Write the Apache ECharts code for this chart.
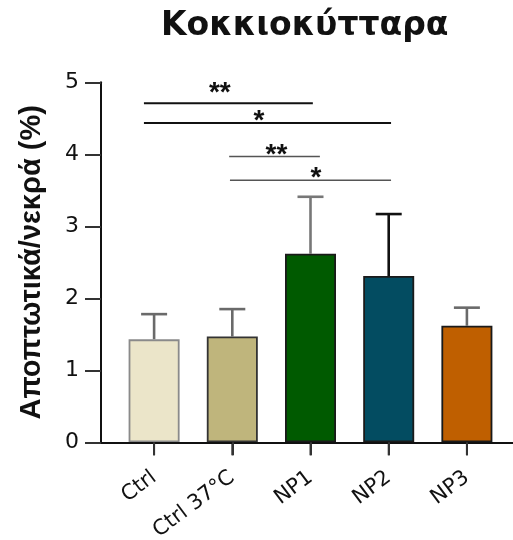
<!DOCTYPE html>
<html><head><meta charset="utf-8">
<script src="https://cdn.jsdelivr.net/npm/echarts@6/dist/echarts.min.js"></script>
<style>html,body{margin:0;padding:0;background:#fff}#c{width:513px;height:540px}</style>
</head><body><div id="c"></div>
<script>
const titleText = 'Κοκκιοκύτταρα';
const yName = 'Αποπτωτικά/νεκρά (%)';
const categories = ['Ctrl', 'Ctrl 37°C', 'NP1', 'NP2', 'NP3'];
const means = [1.43, 1.47, 2.62, 2.31, 1.62];
const errTops = [1.78, 1.85, 3.41, 3.17, 1.87];
const barColors = ['#ebe5c9', '#bfb57c', '#005a00', '#034c61', '#bf5f00'];
const borderColors = ['#8a8a8a', '#333333', '#1a1a1a', '#1a1a1a', '#1a1a1a'];
const errColors = ['#6a6a6a', '#6a6a6a', '#777777', '#111111', '#6a6a6a'];
const yMin = 0, yMax = 5, yStep = 1;
// significance brackets (category units on x, value units on y)
const sigFrom = [-0.13, -0.13, 0.96, 0.97];
const sigTo = [2.03, 3.03, 2.12, 3.03];
const sigY = [4.71, 4.435, 3.97, 3.64];
const sigText = ['**', '*', '**', '*'];
const sigTextX = [0.84, 1.34, 1.565, 2.07];
const sigTextY = [4.85, 4.46, 3.98, 3.67];
const sigColors = ['#111111', '#111111', '#555555', '#555555'];
const sigWidths = [2, 2, 1.5, 1.5];

const chart = echarts.init(document.getElementById('c'));
const gridTop = 82.3, gridBottom = 97.7;
chart.setOption({
  animation: false,
  backgroundColor: '#ffffff',
  graphic: [{
    type: 'text', left: 307 - 146, top: 10,
    style: { text: titleText, fontFamily: 'DejaVu Sans', fontWeight: 'bold', fontSize: 33, fill: '#111' }
  }],
  grid: [
    { left: 101, right: 0, top: gridTop, bottom: gridBottom, containLabel: false, outerBoundsMode: 'none' },
    { left: 115, width: 391, top: gridTop, bottom: gridBottom, containLabel: false, outerBoundsMode: 'none' }
  ],
  xAxis: [
    { gridIndex: 0, type: 'value', min: 0, max: 1,
      axisLine: { show: true, lineStyle: { color: '#111', width: 2 } },
      axisTick: { show: false }, axisLabel: { show: false }, splitLine: { show: false } },
    { gridIndex: 1, type: 'category', data: categories, position: 'bottom', z: 10,
      axisLine: { show: true, onZero: false, lineStyle: { color: '#111', width: 2 } },
      axisTick: { show: true, inside: false, interval: 0, alignWithLabel: true, length: 13, lineStyle: { color: '#333', width: 2 } },
      axisLabel: { interval: 0, rotate: 37, margin: 33, fontFamily: 'DejaVu Sans', fontSize: 21, color: '#111' },
      splitLine: { show: false } },
    { gridIndex: 1, type: 'value', min: -0.5, max: 4.5, show: false }
  ],
  yAxis: [
    { gridIndex: 0, type: 'value', min: yMin, max: yMax, interval: yStep,
      axisLine: { show: true, lineStyle: { color: '#111', width: 2 } },
      axisTick: { show: true, length: 16, lineStyle: { color: '#333', width: 2 } },
      axisLabel: { margin: 22, fontFamily: 'DejaVu Sans', fontSize: 22, color: '#111' },
      splitLine: { show: false },
      name: yName, nameLocation: 'middle', nameGap: 55, nameRotate: 90,
      nameTextStyle: { fontFamily: 'Liberation Sans', fontWeight: 'bold', fontSize: 29, color: '#111' } },
    { gridIndex: 1, type: 'value', min: yMin, max: yMax, show: false }
  ],
  series: [
    { type: 'custom', xAxisIndex: 1, yAxisIndex: 1, z: 1, clip: false,
      data: means.map((v, i) => [i, v, errTops[i]]),
      encode: { x: 0, y: [1, 2] },
      renderItem: function (params, api) {
        const i = api.value(0);
        const b = api.coord([i, api.value(1)]);
        const t = api.coord([i, api.value(2)]);
        const z0 = api.coord([i, yMin]);
        const st = { stroke: errColors[params.dataIndex], lineWidth: 2.6 };
        return { type: 'group', children: [
          { type: 'line', shape: { x1: b[0], y1: b[1], x2: t[0], y2: t[1] }, style: st },
          { type: 'line', shape: { x1: t[0] - 13, y1: t[1], x2: t[0] + 13, y2: t[1] }, style: st },
          { type: 'line', shape: { x1: z0[0], y1: z0[1], x2: z0[0], y2: z0[1] + 13 },
            style: { stroke: '#333', lineWidth: 2 } }
        ] };
      } },
    { type: 'bar', xAxisIndex: 1, yAxisIndex: 1, barWidth: 51, z: 2,
      data: means.map((v, i) => ({ value: v, itemStyle: { color: barColors[i], borderColor: borderColors[i], borderWidth: 1.8 } })) },
    { type: 'custom', xAxisIndex: 2, yAxisIndex: 1, z: 4,
      data: sigFrom.map((f, i) => [f, sigTo[i], sigY[i], sigTextX[i], sigTextY[i]]),
      encode: { x: [0, 1, 3], y: [2, 4] },
      renderItem: function (params, api) {
        const k = params.dataIndex;
        const p1 = api.coord([api.value(0), api.value(2)]);
        const p2 = api.coord([api.value(1), api.value(2)]);
        const pt = api.coord([api.value(3), api.value(4)]);
        return { type: 'group', children: [
          { type: 'line', shape: { x1: p1[0], y1: p1[1], x2: p2[0], y2: p2[1] },
            style: { stroke: sigColors[k], lineWidth: sigWidths[k] } },
          { type: 'text', x: pt[0], y: pt[1],
            style: { text: sigText[k], align: 'center', verticalAlign: 'middle',
              fontFamily: 'Liberation Sans', fontWeight: 'bold', fontSize: 28, fill: '#111' } }
        ] };
      } }
  ]
});
</script>
</body></html>
